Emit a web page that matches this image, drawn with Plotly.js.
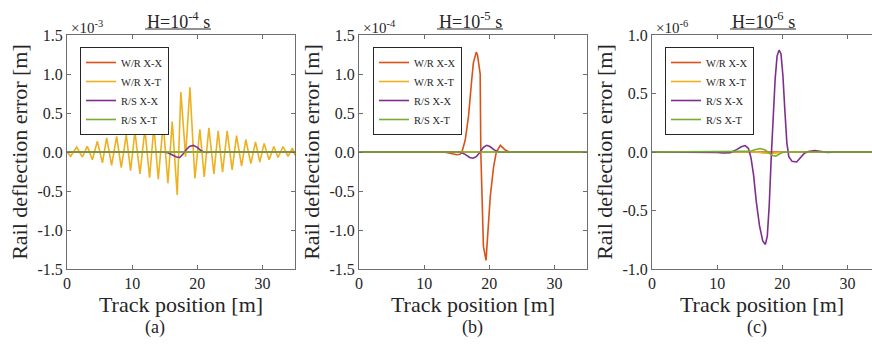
<!DOCTYPE html>
<html>
<head>
<meta charset="utf-8">
<script src="https://cdn.plot.ly/plotly-3.0.1.min.js"></script>
<style>html,body{margin:0;padding:0;overflow:hidden;background:#fff}#chart{width:872px;height:345px}</style>
</head>
<body>
<div id="chart"></div>
<script>
// ---------- data (values in units of the axis exponent) ----------
const seriesNames = ['W/R X-X', 'W/R X-T', 'R/S X-X', 'R/S X-T'];
const seriesColors = ['#D95319', '#EDB120', '#7E2F8E', '#77AC30'];
const xTickVals = [0, 10, 20, 30];
const yTickValsAB = [-1.5, -1.0, -0.5, 0, 0.5, 1.0, 1.5];
const yTickTextAB = ['-1.5', '-1.0', '-0.5', '0.0', '0.5', '1.0', '1.5'];
const yTickValsC = [-1.0, -0.5, 0, 0.5, 1.0];
const yTickTextC = ['-1.0', '-0.5', '0.0', '0.5', '1.0'];
const panelTitles = ['H=10<sup>-4</sup> s', 'H=10<sup>-5</sup> s', 'H=10<sup>-6</sup> s'];
const panelExponents = ['×10<sup>-3</sup>', '×10<sup>-4</sup>', '×10<sup>-6</sup>'];
const panelLabels = ['(a)', '(b)', '(c)'];

// Panel (a): H = 1e-4 s, scale 1e-3 m
const aWRXX_x = [0, 35];
const aWRXX_y = [0, 0];
const aWRXT_x = [0, 0.56, 1.48, 2.35, 3.12, 3.89, 4.66, 5.44, 6.09, 6.85, 7.62, 8.33, 9.10, 9.76, 10.43, 11.20, 11.96, 12.68, 13.34, 14.01, 14.77, 15.49, 16.15, 16.92, 17.48, 18.2, 18.87, 19.63, 20.4, 21.06, 21.78, 22.55, 23.2, 23.88, 24.59, 25.35, 26.03, 26.8, 27.45, 28.22, 28.94, 29.6, 30.26, 31.03, 31.75, 32.4, 33.17, 33.94, 34.6, 35.0];
const aWRXT_y = [0, -0.055, 0.064, -0.064, 0.073, -0.10, 0.137, -0.14, 0.18, -0.17, 0.20, -0.20, 0.22, -0.24, 0.26, -0.28, 0.29, -0.33, 0.33, -0.35, 0.37, -0.40, 0.39, -0.55, 0.77, -0.06, 0.83, -0.34, 0.29, -0.32, 0.31, -0.28, 0.27, -0.26, 0.27, -0.23, 0.21, -0.18, 0.16, -0.15, 0.13, -0.13, 0.11, -0.10, 0.07, -0.07, 0.07, -0.055, 0.05, -0.04];
const aRSXX_x = [0, 14.8, 15.5, 16.2, 16.8, 17.3, 17.8, 18.3, 18.8, 19.4, 20.0, 20.5, 21.0, 21.5, 22.5, 35];
const aRSXX_y = [0, 0, -0.01, -0.04, -0.065, -0.07, -0.03, 0.03, 0.07, 0.085, 0.06, 0.02, 0.0, -0.005, 0, 0];
const aRSXT_x = [0, 35];
const aRSXT_y = [0, 0];

// Panel (b): H = 1e-5 s, scale 1e-4 m
const bWRXX_x = [0, 13, 14, 15, 15.5, 15.8, 16.3, 16.8, 17.3, 17.55, 18.0, 18.2, 18.6, 18.7, 19.1, 19.5, 20.15, 20.66, 21.08, 21.7, 22.46, 23.08, 35];
const bWRXX_y = [0, 0, -0.015, -0.035, -0.03, 0, 0.15, 0.45, 0.92, 1.14, 1.28, 1.24, 1.0, 0, -1.21, -1.39, -0.57, -0.19, 0, 0.085, 0.025, 0, 0];
const bWRXT_x = [0, 35];
const bWRXT_y = [0, 0];
const bRSXX_x = [0, 15.5, 16.3, 17.0, 17.5, 18.0, 18.6, 19.1, 19.6, 20.1, 20.7, 21.3, 22, 23, 35];
const bRSXX_y = [0, 0, -0.03, -0.07, -0.08, -0.06, 0, 0.06, 0.085, 0.07, 0.03, 0.005, -0.003, 0, 0];
const bRSXT_x = [0, 35];
const bRSXT_y = [0, 0];

// Panel (c): H = 1e-6 s, scale 1e-6 m
const cWRXX_x = [0, 35];
const cWRXX_y = [0, 0];
const cWRXT_x = [0, 16, 17, 18.5, 19.5, 20.5, 35];
const cWRXT_y = [0, 0, -0.008, -0.012, -0.005, 0, 0];
const cRSXX_x = [0, 8, 10, 11, 12, 13, 13.7, 14.3, 14.8, 15.2, 15.6, 16.0, 16.5, 17.0, 17.4, 17.7, 18.0, 18.3, 18.6, 18.9, 19.2, 19.5, 19.8, 20.1, 20.4, 20.7, 21.0, 21.5, 22.2, 22.8, 23.4, 24.0, 25, 26, 27, 28, 35];
const cRSXX_y = [0, 0, -0.003, -0.008, -0.005, 0.02, 0.045, 0.055, 0.03, -0.05, -0.2, -0.42, -0.63, -0.76, -0.79, -0.72, -0.45, -0.05, 0.3, 0.62, 0.82, 0.87, 0.84, 0.65, 0.35, 0.08, -0.04, -0.08, -0.085, -0.05, -0.01, 0.005, 0.012, 0.005, -0.003, 0, 0];
const cRSXT_x = [0, 14, 15, 15.8, 16.6, 17.3, 18.0, 18.5, 19.0, 19.5, 20.0, 21, 35];
const cRSXT_y = [0, 0, 0.005, 0.02, 0.03, 0.02, -0.01, -0.03, -0.035, -0.02, -0.003, 0, 0];

// ---------- layout helpers ----------
const W = 872, H = 345;
const px = v => v / W;
const py = v => 1 - v / H;
const serif = '"Liberation Serif", "DejaVu Serif", serif';
const ink = '#262626';
const axisLine = '#6e6e6e';

const panelData = [
  [[aWRXX_x, aWRXX_y], [aWRXT_x, aWRXT_y], [aRSXX_x, aRSXX_y], [aRSXT_x, aRSXT_y]],
  [[bWRXX_x, bWRXX_y], [bWRXT_x, bWRXT_y], [bRSXX_x, bRSXX_y], [bRSXT_x, bRSXT_y]],
  [[cWRXX_x, cWRXX_y], [cWRXT_x, cWRXT_y], [cRSXX_x, cRSXX_y], [cRSXT_x, cRSXT_y]]
];
const panelLeft = [67, 359, 652];
const panelRight = [295, 587, 872];
const xMax = [35, 35, 35 * (872 - 652) / 228];
const yRange = [[-1.5, 1.5], [-1.5, 1.5], [-1.0, 1.0]];
const legendLeft = [80, 373, 665];
const titleCx = [178, 470, 763];
const labelCx = [155, 472, 757];
const expLeft = [69, 361, 654];

const traces = [];
panelData.forEach((series, p) => {
  const sfx = p === 0 ? '' : String(p + 1);
  series.forEach((s, i) => {
    traces.push({
      type: 'scatter', mode: 'lines',
      x: s[0], y: s[1],
      name: seriesNames[i],
      xaxis: 'x' + sfx, yaxis: 'y' + sfx,
      legend: 'legend' + sfx,
      line: {color: seriesColors[i], width: 1.6},
      hoverinfo: 'skip'
    });
  });
});

const layout = {
  width: W, height: H,
  margin: {l: 0, r: 0, t: 0, b: 0},
  paper_bgcolor: '#fff', plot_bgcolor: '#fff',
  font: {family: serif, color: ink, size: 15},
  annotations: [],
  shapes: []
};

for (let p = 0; p < 3; p++) {
  const sfx = p === 0 ? '' : String(p + 1);
  const isC = p === 2;
  layout['xaxis' + sfx] = {
    domain: [px(panelLeft[p]), px(panelRight[p])],
    anchor: 'y' + sfx,
    range: [0, xMax[p]],
    tickmode: 'array', tickvals: xTickVals, ticktext: xTickVals.map(String),
    ticks: 'inside', ticklen: 4, tickcolor: axisLine,
    showline: true, linecolor: axisLine, linewidth: 1, mirror: 'ticks',
    showgrid: false, zeroline: false,
    tickfont: {family: serif, size: 16, color: ink},
    title: {text: 'Track position [m]', font: {family: serif, size: 22, color: ink}, standoff: 0},
    automargin: false, fixedrange: true
  };
  layout['yaxis' + sfx] = {
    domain: [py(269), py(35)],
    anchor: 'x' + sfx,
    range: yRange[p],
    tickmode: 'array',
    tickvals: isC ? yTickValsC : yTickValsAB,
    ticktext: isC ? yTickTextC : yTickTextAB,
    ticks: 'inside', ticklen: 4, tickcolor: axisLine,
    showline: true, linecolor: axisLine, linewidth: 1, mirror: isC ? false : 'ticks',
    showgrid: false, zeroline: false,
    tickfont: {family: serif, size: 16, color: ink},
    title: {text: 'Rail deflection error [m]', font: {family: serif, size: 22, color: ink}, standoff: 3},
    automargin: false, fixedrange: true
  };
  layout['legend' + sfx] = {
    x: px(legendLeft[p]), y: py(47), xanchor: 'left', yanchor: 'top',
    bgcolor: '#fff', bordercolor: ink, borderwidth: 1,
    font: {family: serif, size: 10.5, color: ink},
    tracegroupgap: 0, itemclick: false, itemdoubleclick: false
  };
  layout.annotations.push({
    xref: 'paper', yref: 'paper', x: px(titleCx[p]), y: py(21),
    xanchor: 'center', yanchor: 'middle', showarrow: false,
    text: panelTitles[p],
    font: {family: serif, size: 18, color: ink}
  });
  layout.shapes.push({
    type: 'line', xref: 'paper', yref: 'paper',
    x0: px(titleCx[p] - 33), x1: px(titleCx[p] + 33), y0: py(29), y1: py(29),
    line: {color: ink, width: 1}
  });
  layout.annotations.push({
    xref: 'paper', yref: 'paper', x: px(expLeft[p]), y: py(27),
    xanchor: 'left', yanchor: 'middle', showarrow: false,
    text: panelExponents[p],
    font: {family: serif, size: 15, color: ink}
  });
  layout.annotations.push({
    xref: 'paper', yref: 'paper', x: px(labelCx[p]), y: py(327),
    xanchor: 'center', yanchor: 'middle', showarrow: false,
    text: panelLabels[p],
    font: {family: serif, size: 18, color: ink}
  });
}

Plotly.newPlot('chart', traces, layout, {displayModeBar: false, staticPlot: true});
</script>
</body>
</html>
